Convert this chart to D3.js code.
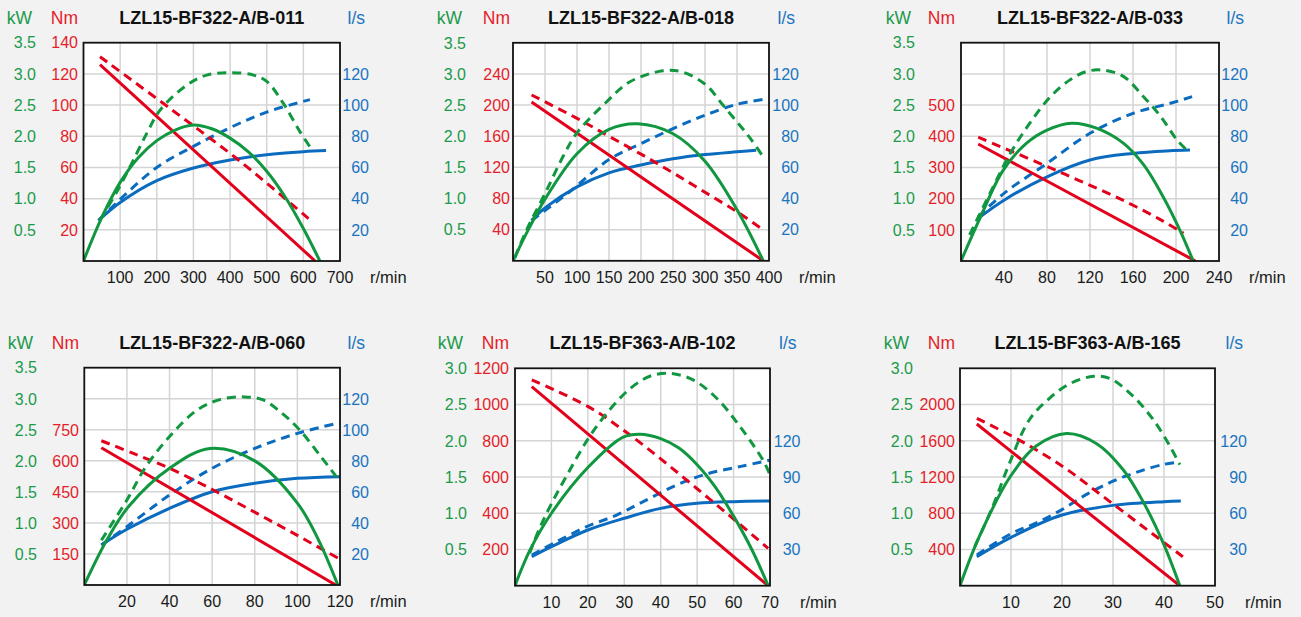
<!DOCTYPE html>
<html><head><meta charset="utf-8">
<script src="https://cdn.jsdelivr.net/npm/d3@7"></script>
<style>
html,body{margin:0;padding:0;background:#f1f2f1;}
svg{display:block;font-family:"Liberation Sans",Arial,sans-serif;}
</style></head>
<body><svg id="c" width="1301" height="617"></svg>
<script>
// ---------- data ----------
const titles = ["LZL15-BF322-A/B-011","LZL15-BF322-A/B-018","LZL15-BF322-A/B-033",
                "LZL15-BF322-A/B-060","LZL15-BF363-A/B-102","LZL15-BF363-A/B-165"];
const rpmMax   = [700, 400, 240, 120, 70, 50];
const rpmTicks = [[100,200,300,400,500,600,700],[50,100,150,200,250,300,350,400],
                  [40,80,120,160,200,240],[20,40,60,80,100,120],[10,20,30,40,50,60,70],[10,20,30,40,50]];
const kwMax    = [3.5, 3.5, 3.5, 3.5, 3.0, 3.0];
const kwTicks  = [[0.5,1.0,1.5,2.0,2.5,3.0,3.5],[0.5,1.0,1.5,2.0,2.5,3.0,3.5],[0.5,1.0,1.5,2.0,2.5,3.0,3.5],
                  [0.5,1.0,1.5,2.0,2.5,3.0,3.5],[0.5,1.0,1.5,2.0,2.5,3.0],[0.5,1.0,1.5,2.0,2.5,3.0]];
const nmMax    = [140, 280, 700, 1050, 1200, 2400];
const nmTicks  = [[20,40,60,80,100,120,140],[40,80,120,160,200,240],[100,200,300,400,500],
                  [150,300,450,600,750],[200,400,600,800,1000,1200],[400,800,1200,1600,2000]];
const lsMax    = [140, 140, 140, 140, 180, 180];
const lsTicks  = [[20,40,60,80,100,120],[20,40,60,80,100,120],[20,40,60,80,100,120],
                  [20,40,60,80,100,120],[30,60,90,120],[30,60,90,120]];

// torque (Nm) – solid / dashed
const torqueSolid = [
  [[45,126],[632,0]],
  [[29,204],[391,0]],
  [[16,375],[218,0]],
  [[8,663],[118,0]],
  [[4.6,1099],[69.5,0]],
  [[3.3,1785],[43.1,0]]
];
const torqueDash = [
  [[45,131],[241,97],[427,64],[625,25]],
  [[29,213],[100,183],[150,160],[200,137],[250,113],[300,88],[350,63],[392,39]],
  [[16,397],[70,318],[110,258],[150,196],[188,128],[207,89]],
  [[8,697],[23,636],[40,564],[60.5,459],[81,346],[101,234],[120,124]],
  [[4.6,1136],[20,990],[30,855],[40,700],[50,535],[60,368],[69.5,206]],
  [[3.3,1848],[11.8,1602],[20.3,1310],[28.1,983],[35.9,651],[43.7,320]]
];
// power (kW) – solid / dashed
const powerSolid = [
  [[0,0],[50,0.7],[100,1.26],[150,1.66],[200,1.93],[250,2.1],[300,2.18],[350,2.12],[400,1.97],[450,1.75],[500,1.44],[550,1.03],[600,0.52],[645,0]],
  [[0,0],[25,0.52],[50,0.99],[100,1.72],[150,2.11],[195,2.2],[250,2.04],[300,1.6],[350,0.82],[391,0]],
  [[0,0],[18,0.7],[39,1.45],[61,1.89],[80,2.1],[103,2.21],[126,2.13],[151,1.89],[170,1.54],[188,1.03],[204,0.48],[216,0]],
  [[0,0],[10.5,0.72],[20.7,1.26],[40,1.88],[59,2.2],[80,2.0],[100,1.32],[110,0.72],[119,0]],
  [[0,0],[4.1,0.49],[10,1.0],[20,1.63],[29.7,2.05],[34.3,2.09],[40,2.03],[45,1.9],[50,1.67],[55,1.36],[60,0.96],[65,0.5],[69.5,0]],
  [[0,0],[3.8,0.68],[9.8,1.5],[15,1.93],[20.9,2.1],[26.8,1.96],[32,1.6],[35.9,1.16],[39.9,0.58],[43.1,0]]
];
const powerDash = [
  [[45,0.66],[91,1.11],[132,1.57],[173,2.05],[209,2.42],[282,2.82],[336,2.98],[400,3.02],[464,2.98],[500,2.88],[545,2.53],[591,2.07],[625,1.77]],
  [[3,0.05],[21,0.49],[50,1.08],[78,1.67],[99,2.04],[146,2.55],[182,2.87],[234,3.05],[265,3.03],[302,2.82],[328,2.5],[354,2.18],[372,1.95],[392,1.65]],
  [[8,0.42],[30,1.19],[46,1.73],[64,2.21],[83,2.63],[101,2.9],[117,3.04],[132,3.06],[151,2.96],[170,2.63],[186,2.31],[201,1.94],[210,1.78]],
  [[8,0.72],[20,1.37],[29,1.91],[40,2.39],[53,2.82],[64,2.99],[75,3.03],[84,2.98],[93,2.76],[101,2.5],[111,2.07],[119.5,1.69]],
  [[4,0.45],[6.9,0.81],[10.5,1.18],[15.1,1.6],[20.1,2.03],[25.2,2.38],[31.6,2.72],[37,2.89],[42.5,2.93],[48.9,2.84],[55.3,2.59],[61.7,2.2],[68.1,1.73],[70,1.53]],
  [[2.9,0.54],[6.4,1.09],[9.7,1.69],[13.6,2.29],[17.6,2.59],[21.6,2.79],[26.2,2.89],[29.4,2.86],[34,2.61],[37.9,2.29],[41.2,1.92],[43.1,1.67]]
];
// flow (l/s) – solid / dashed
const flowSolid = [
  [[41,26],[100,37.5],[200,51.5],[300,59.6],[400,64.8],[500,68.2],[600,70.1],[662,70.8]],
  [[29,25.9],[50,34],[100,47.5],[150,56.5],[200,61.5],[250,65.5],[300,68.2],[350,70],[380,71]],
  [[16,27.4],[40,39],[80,54],[120,64.8],[160,69],[194,70.7],[213,71.2]],
  [[8,25.8],[20,35.9],[40,49.4],[60,60.1],[80,65.5],[100,68.7],[120,69.8]],
  [[4.6,24],[10,32.3],[20,46.1],[30,55.8],[40,64],[50,68.2],[60,69.6],[70,70.1]],
  [[3.3,24],[10,40],[20,58.5],[30,66.5],[40,69.6],[43.3,70.1]]
];
const flowDash = [
  [[41,26],[100,39.5],[200,60],[300,73.5],[400,85.5],[500,95.5],[618,103.5]],
  [[29,25.9],[88,44.2],[150,65],[200,75.3],[250,84.9],[300,93.5],[350,100.5],[390,103.6]],
  [[16,28.4],[40,43.4],[80,62.6],[120,81.9],[160,94.7],[194,101],[215,105.4]],
  [[8,25.8],[20,37.6],[40,58],[60,75.2],[80,88],[100,97.7],[120,104.6]],
  [[4.6,25.4],[11.4,36.4],[19.7,48.9],[27.9,58.5],[35.2,69.6],[44.4,83.4],[52.6,92.5],[61.7,98.6],[70,104]],
  [[3.3,25.4],[10,43],[15,52],[20,63],[25,76],[30,86.5],[35,94.5],[40,100.5],[42.8,102.2]]
];

// ---------- layout ----------
const panels = [
  {x:83.5, y:42.7, w:256.5, h:218.3, kwR:36,  nmR:78,  lsR:369},
  {x:513,  y:42.8, w:256,   h:218,   kwR:466, nmR:510, lsR:799},
  {x:961,  y:42.7, w:258,   h:218.3, kwR:915, nmR:955, lsR:1248},
  {x:84.3, y:367.7,w:255.7, h:217.3, kwR:37,  nmR:79,  lsR:369},
  {x:515,  y:368.3,w:255,   h:217.4, kwR:467, nmR:509, lsR:800.5},
  {x:960,  y:368.3,w:255,   h:217.4, kwR:913, nmR:955, lsR:1247}
];
const GREEN="#10973f", RED="#e3001b", BLUE="#0b6cbf";
const GREEN_T="#1b9a4b", RED_T="#e41e2b", BLUE_T="#1a74bf";

const svg = d3.select("#c");
const defs = svg.append("defs");

panels.forEach((p,i)=>{
  const g = svg.append("g");
  const x = d3.scaleLinear().domain([0,rpmMax[i]]).range([p.x,p.x+p.w]);
  const yKw = d3.scaleLinear().domain([0,kwMax[i]]).range([p.y+p.h,p.y]);
  const yNm = d3.scaleLinear().domain([0,nmMax[i]]).range([p.y+p.h,p.y]);
  const yLs = d3.scaleLinear().domain([0,lsMax[i]]).range([p.y+p.h,p.y]);

  g.append("rect").attr("x",p.x).attr("y",p.y).attr("width",p.w).attr("height",p.h).attr("fill","#fff");

  g.selectAll(".vg").data(rpmTicks[i].filter(v=>v<rpmMax[i])).join("line")
    .attr("x1",d=>x(d)).attr("x2",d=>x(d)).attr("y1",p.y).attr("y2",p.y+p.h)
    .attr("stroke","#d4d4d4").attr("stroke-width",1.5);
  g.selectAll(".hg").data(kwTicks[i].filter(v=>v<kwMax[i])).join("line")
    .attr("y1",d=>yKw(d)).attr("y2",d=>yKw(d)).attr("x1",p.x).attr("x2",p.x+p.w)
    .attr("stroke","#d4d4d4").attr("stroke-width",1.5);

  const cid = "clip"+i;
  defs.append("clipPath").attr("id",cid).append("rect")
    .attr("x",p.x).attr("y",p.y).attr("width",p.w).attr("height",p.h);
  const cg = g.append("g").attr("clip-path",`url(#${cid})`);

  const crv = d3.curveCatmullRom.alpha(0.5);
  const lineKw = d3.line().x(d=>x(d[0])).y(d=>yKw(d[1])).curve(crv);
  const lineNm = d3.line().x(d=>x(d[0])).y(d=>yNm(d[1])).curve(crv);
  const lineLs = d3.line().x(d=>x(d[0])).y(d=>yLs(d[1])).curve(crv);

  const series = [
    {d:flowDash[i],  l:lineLs, c:BLUE,  dash:true},
    {d:flowSolid[i], l:lineLs, c:BLUE,  dash:false},
    {d:torqueDash[i],l:lineNm, c:RED,   dash:true},
    {d:torqueSolid[i],l:lineNm,c:RED,   dash:false},
    {d:powerDash[i], l:lineKw, c:GREEN, dash:true},
    {d:powerSolid[i],l:lineKw, c:GREEN, dash:false}
  ];
  series.forEach(s=>{
    cg.append("path").attr("d",s.l(s.d)).attr("fill","none")
      .attr("stroke",s.c).attr("stroke-width",3)
      .attr("stroke-dasharray",s.dash?"9,6":null);
  });

  g.append("rect").attr("x",p.x).attr("y",p.y).attr("width",p.w).attr("height",p.h)
    .attr("fill","none").attr("stroke","#111").attr("stroke-width",1.8);

  g.selectAll(".kwt").data(kwTicks[i]).join("text")
    .attr("x",p.kwR).attr("y",d=>yKw(d)).attr("dy","0.36em").attr("text-anchor","end")
    .attr("font-size",16).attr("fill",GREEN_T).text(d=>d.toFixed(1));
  g.selectAll(".nmt").data(nmTicks[i]).join("text")
    .attr("x",p.nmR).attr("y",d=>yNm(d)).attr("dy","0.36em").attr("text-anchor","end")
    .attr("font-size",16).attr("fill",RED_T).text(d=>d);
  g.selectAll(".lst").data(lsTicks[i]).join("text")
    .attr("x",p.lsR).attr("y",d=>yLs(d)).attr("dy","0.36em").attr("text-anchor","end")
    .attr("font-size",16).attr("fill",BLUE_T).text(d=>d);
  g.selectAll(".xt").data(rpmTicks[i]).join("text")
    .attr("x",d=>x(d)).attr("y",p.y+p.h+22).attr("text-anchor","middle")
    .attr("font-size",16).attr("fill","#1a1a1a").text(d=>d);
  g.append("text").attr("x",p.x+p.w+30).attr("y",p.y+p.h+22)
    .attr("font-size",16.5).attr("fill","#1a1a1a").text("r/min");

  const hy = p.y-19;
  g.append("text").attr("x",p.kwR-4).attr("y",hy).attr("text-anchor","end")
    .attr("font-size",17.5).attr("fill",GREEN_T).text("kW");
  g.append("text").attr("x",p.nmR).attr("y",hy).attr("text-anchor","end")
    .attr("font-size",17.5).attr("fill",RED_T).text("Nm");
  g.append("text").attr("x",p.lsR-4).attr("y",hy).attr("text-anchor","end")
    .attr("font-size",17.5).attr("fill",BLUE_T).text("l/s");
  g.append("text").attr("x",p.x+p.w/2).attr("y",hy)
    .attr("text-anchor","middle").attr("font-size",18).attr("font-weight","bold")
    .attr("fill","#111").text(titles[i]);
});
</script></body></html>
